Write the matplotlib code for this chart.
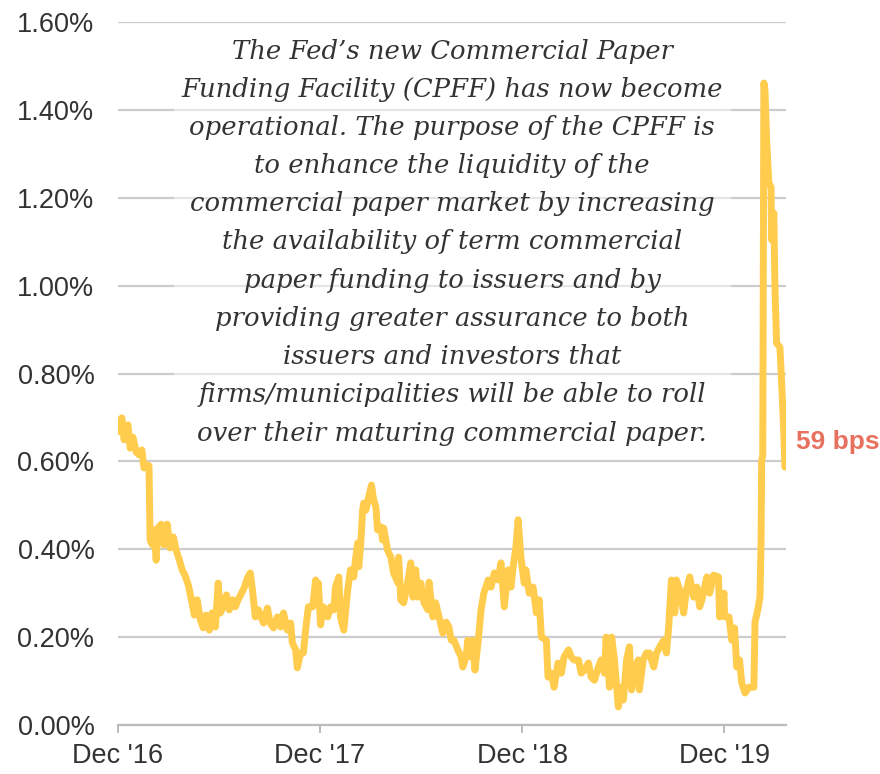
"""Commercial paper spread chart with CPFF annotation."""

import datetime as dt

import matplotlib

matplotlib.use("Agg")
from matplotlib import pyplot as plt

START = dt.date(2016, 12, 1)
END_DAY = 1207

# days after START, spread in percent
days_since_start = [
    0, 4, 7, 11, 14, 18, 22, 27, 33, 38, 43, 47, 53, 56, 58, 62, 65, 69, 72, 78,
    83, 89, 94, 100, 105, 111, 116, 121, 127, 132, 138, 143, 149, 154, 159, 165,
    170, 176, 181, 185, 190, 196, 201, 207, 212, 217, 223, 228, 234, 239, 243,
    248, 254, 257, 263, 270, 275, 281, 288, 294, 299, 306, 312, 315, 321, 324,
    330, 335, 339, 344, 352, 357, 361, 362, 366, 371, 379, 384, 390, 393, 399,
    402, 408, 415, 420, 426, 429, 433, 435, 439, 442, 444, 448, 453, 458, 462,
    466, 469, 475, 478, 480, 487, 493, 498, 506, 507, 511, 516, 524, 529, 533,
    538, 542, 547, 553, 560, 562, 569, 574, 580, 587, 593, 598, 602, 607, 614,
    620, 623, 629, 632, 638, 641, 645, 651, 656, 661, 669, 674, 680, 687, 692,
    698, 705, 710, 714, 719, 723, 728, 734, 737, 743, 750, 756, 761, 765, 774,
    777, 783, 788, 795, 801, 806, 814, 819, 824, 832, 837, 843, 850, 855, 861,
    868, 873, 879, 882, 888, 892, 897, 904, 910, 913, 919, 924, 928, 933, 940,
    942, 949, 955, 960, 968, 973, 979, 986, 991, 995, 1000, 1006, 1009, 1015,
    1022, 1027, 1033, 1040, 1046, 1051, 1055, 1064, 1069, 1076, 1085, 1087,
    1095, 1096, 1104, 1109, 1114, 1118, 1123, 1127, 1133, 1140, 1149, 1151,
    1156, 1160, 1162, 1163, 1165, 1167, 1169, 1172, 1176, 1180, 1181, 1185,
    1187, 1190, 1196, 1200, 1203, 1205,
]
spread_pct = [
    .667, .694, .699, .649, .671, .683, .630, .655, .621, .615, .626, .585, .592,
    .590, .421, .410, .444, .375, .448, .457, .410, .457, .403, .428, .398, .375,
    .353, .341, .319, .289, .250, .285, .239, .221, .250, .216, .255, .223, .323,
    .255, .269, .296, .262, .285, .269, .285, .300, .312, .335, .346, .307, .246,
    .262, .250, .232, .266, .232, .221, .246, .223, .255, .216, .232, .187, .171,
    .130, .164, .164, .216, .269, .269, .330, .278, .323, .228, .269, .246, .269,
    .262, .314, .337, .246, .216, .307, .353, .337, .375, .414, .360, .421, .489,
    .505, .489, .519, .546, .512, .496, .444, .451, .421, .448, .398, .382, .346,
    .323, .382, .285, .278, .330, .369, .291, .353, .291, .323, .278, .262, .325,
    .246, .278, .246, .209, .234, .223, .193, .193, .171, .155, .132, .155, .193,
    .155, .193, .125, .193, .262, .300, .330, .314, .346, .330, .369, .269, .353,
    .314, .360, .405, .467, .382, .323, .353, .300, .314, .255, .285, .200, .193,
    .109, .118, .086, .141, .118, .155, .171, .155, .148, .148, .118, .125, .141,
    .109, .102, .132, .148, .118, .200, .086, .200, .148, .041, .086, .057, .148,
    .178, .080, .125, .148, .080, .148, .164, .164, .132, .164, .178, .193, .164,
    .223, .330, .255, .330, .307, .255, .307, .337, .291, .314, .269, .285, .337,
    .300, .341, .337, .246, .300, .246, .246, .193, .221, .132, .148, .096, .073,
    .086, .086, .234, .262, .291, .421, .599, .615, 1.461, 1.445, 1.331, 1.234,
    1.224, 1.104, 1.165, .997, .869, .860, .756, .665, .587,
]

y_ticks = [0.0, 0.2, 0.4, 0.6, 0.8, 1.0, 1.2, 1.4, 1.6]
x_tick_dates = [dt.date(2016, 12, 1), dt.date(2017, 12, 1),
                dt.date(2018, 12, 1), dt.date(2019, 12, 1)]
x_tick_labels = ["Dec '16", "Dec '17", "Dec '18", "Dec '19"]

end_label = "59 bps"
note = (
    "The Fed\u2019s new Commercial Paper\n"
    "Funding Facility (CPFF) has now become\n"
    "operational. The purpose of the CPFF is\n"
    "to enhance the liquidity of the\n"
    "commercial paper market by increasing\n"
    "the availability of term commercial\n"
    "paper funding to issuers and by\n"
    "providing greater assurance to both\n"
    "issuers and investors that\n"
    "firms/municipalities will be able to roll\n"
    "over their maturing commercial paper."
)

LINE_COLOR = "#FFCC4E"
TEXT_COLOR = "#333333"
GRID_COLOR = "#CCCCCC"
LABEL_COLOR = "#E8705E"

plt.rcParams["font.family"] = ["Liberation Sans", "DejaVu Sans"]

dates = [START + dt.timedelta(days=d) for d in days_since_start]

fig = plt.figure(figsize=(8.8, 7.74), dpi=100)
ax = fig.add_axes([118 / 880, 49 / 774, (786 - 118) / 880, (725 - 22) / 774])

ax.plot(dates, spread_pct, color=LINE_COLOR, linewidth=5,
        solid_joinstyle="round", solid_capstyle="round", zorder=3)

ax.set_xlim(START, START + dt.timedelta(days=END_DAY))
ax.set_ylim(0, 1.6)
ax.set_yticks(y_ticks)
ax.set_yticklabels([f"{v:.2f}%" for v in y_ticks])
ax.set_xticks(x_tick_dates)
ax.set_xticklabels(x_tick_labels)

ax.grid(axis="y", color=GRID_COLOR, linewidth=1.6)
ax.set_axisbelow(True)
for side in ("left", "right", "top"):
    ax.spines[side].set_visible(False)
ax.spines["bottom"].set_color("#BBBBBB")
ax.spines["bottom"].set_linewidth(1.6)
ax.tick_params(axis="y", length=0, pad=17, labelsize=19.5, labelcolor=TEXT_COLOR)
ax.tick_params(axis="x", length=6, width=1.4, color="#BBBBBB", pad=7,
               labelsize=19.5, labelcolor=TEXT_COLOR)

ax.annotate(end_label, xy=(dates[-1], spread_pct[-1]), xytext=(8, 18),
            textcoords="offset points", va="center", ha="left",
            fontsize=19, fontweight="bold", color=LABEL_COLOR,
            annotation_clip=False)

fig.text(452 / 880, 1 - 242 / 774, note, ha="center", va="center",
         family="DejaVu Serif", style="italic", fontsize=18.6, color=TEXT_COLOR,
         linespacing=1.66,
         bbox=dict(boxstyle="square,pad=0.3", facecolor="white",
                   edgecolor="none", alpha=0.5))

fig.savefig("out.png", dpi=100)
